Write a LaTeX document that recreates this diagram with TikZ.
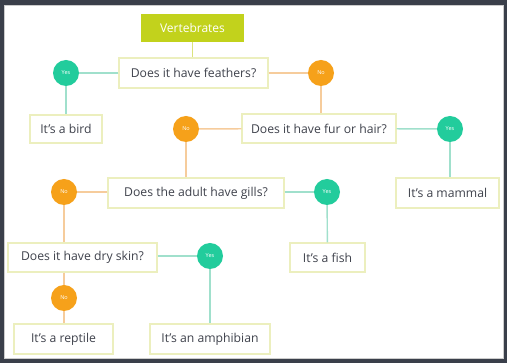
\documentclass[tikz,border=0pt]{standalone}
\usepackage{fontspec}
\setmainfont{Open Sans}
\definecolor{frame}{HTML}{3A3F4A}
\definecolor{lime}{HTML}{C2D21C}
\definecolor{boxline}{HTML}{ECEFBE}
\definecolor{txt}{HTML}{3F424C}
\definecolor{yescol}{HTML}{22CC9C}
\definecolor{nocol}{HTML}{F6A11A}
\definecolor{yesline}{HTML}{A0E0CC}
\definecolor{noline}{HTML}{F6CC9C}
\begin{document}
\begin{tikzpicture}[x=1pt,y=-1pt,
  qbox/.style={draw=boxline,line width=1.4pt,fill=white,text=txt,font=\fontsize{12.2}{14}\selectfont,inner sep=0pt},
  topbox/.style={fill=lime,text=white,font=\fontsize{12}{14}\selectfont,inner sep=0pt,minimum width=103pt,minimum height=28pt},
  yesdot/.style={circle,fill=yescol,text=white,font=\fontsize{5.5}{6}\selectfont,minimum size=26pt,inner sep=0pt},
  nodot/.style={circle,fill=nocol,text=white,font=\fontsize{5.5}{6}\selectfont,minimum size=26pt,inner sep=0pt},
  yline/.style={draw=yesline,line width=1.4pt},
  nline/.style={draw=noline,line width=1.4pt},
  tline/.style={draw=boxline!60!lime,line width=1.4pt}]
\useasboundingbox (0,0) rectangle (507,363);
\fill[frame] (0,0) rectangle (507,363);
\fill[white] (4,5) rectangle (503,358);
\draw[black!20,line width=0.6pt] (4,5) rectangle (503,358);

\node[topbox] (vert) at (192.5,28) {Vertebrates};
\node[qbox,minimum width=149pt,minimum height=30pt] (feath) at (193.5,73) {Does it have feathers?};
\node[qbox,minimum width=72pt,minimum height=28pt] (bird) at (66,129) {It's a bird};
\node[qbox,minimum width=154pt,minimum height=29pt] (fur) at (319,128.5) {Does it have fur or hair?};
\node[qbox,minimum width=176pt,minimum height=30pt] (gills) at (196,193) {Does the adult have gills?};
\node[qbox,minimum width=103pt,minimum height=30pt] (mammal) at (447.5,193) {It's a mammal};
\node[qbox,minimum width=149pt,minimum height=29pt] (dry) at (82.5,257.5) {Does it have dry skin?};
\node[qbox,minimum width=75pt,minimum height=29pt] (fish) at (327.5,257.5) {It's a fish};
\node[qbox,minimum width=99pt,minimum height=30pt] (reptile) at (63.5,339) {It's a reptile};
\node[qbox,minimum width=120pt,minimum height=30pt] (amph) at (210,339) {It's an amphibian};

\node[yesdot] (y1) at (66,73) {Yes};
\node[nodot] (n1) at (321,73) {No};
\node[nodot] (n2) at (186,129) {No};
\node[yesdot] (y2) at (450,129) {Yes};
\node[nodot] (n3) at (64,192) {No};
\node[yesdot] (y3) at (327,192) {Yes};
\node[yesdot] (y4) at (210,256) {Yes};
\node[nodot] (n4) at (64,298) {No};

\draw[tline] (vert) -- (vert |- feath.north);
\draw[yline] (feath) -- (y1);
\draw[yline] (y1) -- (bird);
\draw[nline] (feath) -- (n1);
\draw[nline] (n1) -- (n1 |- fur.north);
\draw[nline] (fur) -- (n2);
\draw[nline] (n2) -- (n2 |- gills.north);
\draw[yline] (fur) -- (y2);
\draw[yline] (y2) -- (y2 |- mammal.north);
\draw[yline] (gills.east |- y3) -- (y3);
\draw[yline] (y3) -- (fish);
\draw[nline] (gills.west |- n3) -- (n3);
\draw[nline] (n3) -- (n3 |- dry.north);
\draw[yline] (dry.east |- y4) -- (y4);
\draw[yline] (y4) -- (amph);
\draw[nline] (n4 |- dry.south) -- (n4);
\draw[nline] (n4) -- (n4 |- reptile.north);
\end{tikzpicture}
\end{document}
